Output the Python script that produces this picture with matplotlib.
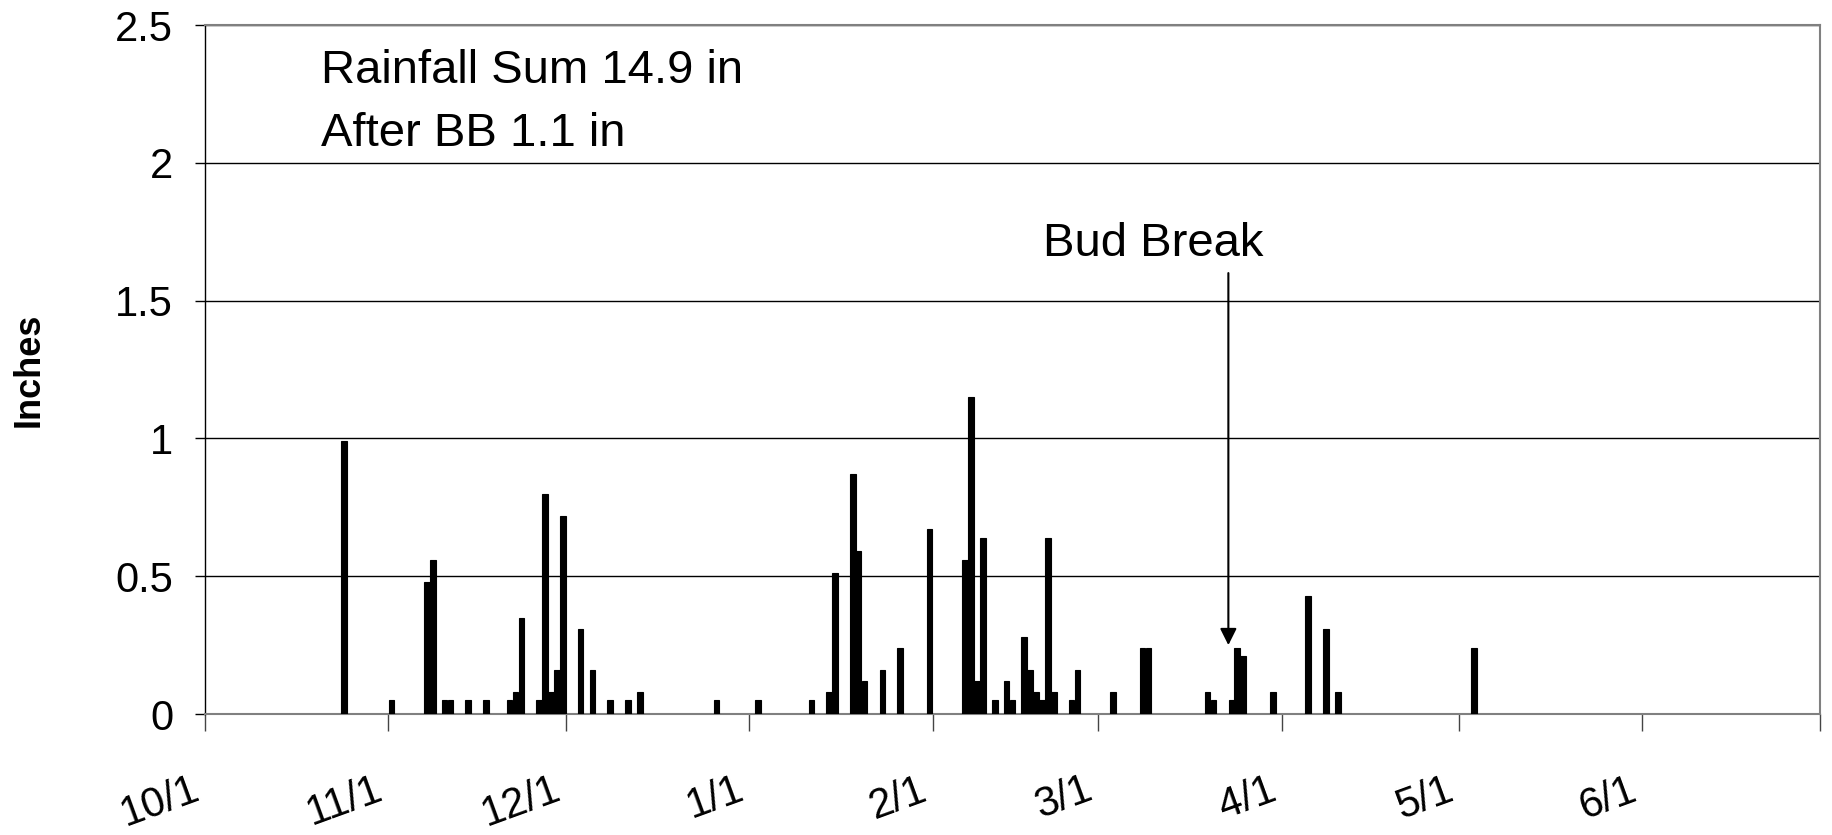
import matplotlib
matplotlib.use('Agg')
import matplotlib.pyplot as plt
import numpy as np

plt.rcParams['font.family'] = ['Liberation Sans', 'DejaVu Sans']

# daily rainfall (inches), season starting 10/1
rain_dates = ['2006-10-24', '2006-11-01', '2006-11-07', '2006-11-08', '2006-11-10',
              '2006-11-11', '2006-11-14', '2006-11-17', '2006-11-21', '2006-11-22',
              '2006-11-23', '2006-11-26', '2006-11-27', '2006-11-28', '2006-11-29',
              '2006-11-30', '2006-12-03', '2006-12-05', '2006-12-08', '2006-12-11',
              '2006-12-13', '2006-12-26',
              '2007-01-02', '2007-01-11', '2007-01-14', '2007-01-15', '2007-01-18',
              '2007-01-19', '2007-01-20', '2007-01-23', '2007-01-26', '2007-01-31',
              '2007-02-06', '2007-02-07', '2007-02-08', '2007-02-09', '2007-02-11',
              '2007-02-13', '2007-02-14', '2007-02-16', '2007-02-17', '2007-02-18',
              '2007-02-19', '2007-02-20', '2007-02-21', '2007-02-24', '2007-02-25',
              '2007-03-03', '2007-03-08', '2007-03-09', '2007-03-19', '2007-03-20',
              '2007-03-23', '2007-03-24', '2007-03-25', '2007-03-30', '2007-04-05',
              '2007-04-08', '2007-04-10', '2007-05-03']
rain_in = [0.99, 0.05, 0.48, 0.56, 0.05,
           0.05, 0.05, 0.05, 0.05, 0.08,
           0.35, 0.05, 0.80, 0.08, 0.16,
           0.72, 0.31, 0.16, 0.05, 0.05,
           0.08, 0.05,
           0.05, 0.05, 0.08, 0.51, 0.87,
           0.59, 0.12, 0.16, 0.24, 0.67,
           0.56, 1.15, 0.12, 0.64, 0.05,
           0.12, 0.05, 0.28, 0.16, 0.08,
           0.05, 0.64, 0.08, 0.05, 0.16,
           0.08, 0.24, 0.24, 0.08, 0.05,
           0.05, 0.24, 0.21, 0.08, 0.43,
           0.31, 0.08, 0.24]

month_starts = ['2006-10-01', '2006-11-01', '2006-12-01', '2007-01-01', '2007-02-01',
                '2007-03-01', '2007-04-01', '2007-05-01', '2007-06-01', '2007-07-01']
month_labels = ['10/1', '11/1', '12/1', '1/1', '2/1', '3/1', '4/1', '5/1', '6/1', '']
bud_break = '2007-03-23'

start = np.datetime64(month_starts[0])
day = (np.array(rain_dates, dtype='datetime64[D]') - start).astype(int)
tick_days = (np.array(month_starts, dtype='datetime64[D]') - start).astype(int)
bb_day = (np.datetime64(bud_break) - start).astype(int)

fig = plt.figure(figsize=(18.32, 8.35), dpi=100)
ax = fig.add_axes([0.1119, 0.1449, 0.8815, 0.8251])

ax.bar(day + 0.5, rain_in, width=0.95, color='black', edgecolor='black', linewidth=0.8, zorder=3)

ax.set_xlim(0, tick_days[-1])
ax.set_ylim(0, 2.5)
ax.set_yticks(np.arange(0, 2.51, 0.5))
ax.set_yticklabels(['0', '0.5', '1', '1.5', '2', '2.5'])
ax.set_xticks(tick_days)
ax.set_xticklabels(month_labels, rotation=20, ha='right')

ax.yaxis.grid(True, color='black', linewidth=1.0)
ax.set_axisbelow(True)

ax.tick_params(axis='y', labelsize=30, length=7, width=1, pad=16, color='black')
ax.tick_params(axis='x', labelsize=30, length=12, width=1, pad=28, color='#444444')

for s in ['top', 'right', 'bottom']:
    ax.spines[s].set_color('#808080')
    ax.spines[s].set_linewidth(1.5)
ax.spines['left'].set_color('black')
ax.spines['left'].set_linewidth(1.0)

ax.set_ylabel('Inches', fontsize=26, fontweight='bold')
ax.yaxis.set_label_coords(-0.098, 0.5)

ax.text(19.6, 2.29, 'Rainfall Sum 14.9 in', fontsize=34, va='baseline', ha='left')
ax.text(19.6, 2.06, 'After BB 1.1 in', fontsize=34, va='baseline', ha='left')

ax.annotate('', xy=(bb_day, 0.25), xytext=(bb_day, 1.60),
            arrowprops=dict(arrowstyle='-|>', color='black', lw=1.5,
                            mutation_scale=25, shrinkA=0, shrinkB=0))
ax.text(160.3, 1.705, 'Bud Break', fontsize=34, ha='center', va='center')

fig.savefig('out.png', dpi=100)
